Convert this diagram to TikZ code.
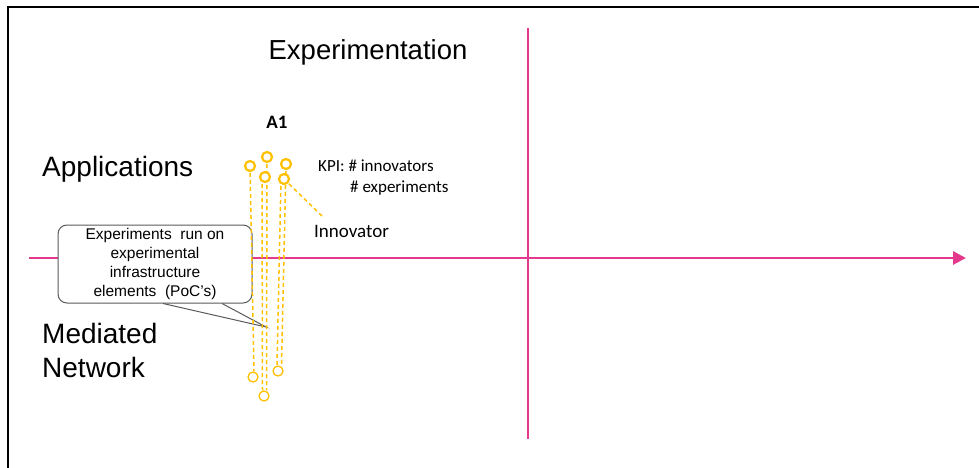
\documentclass[tikz,border=0pt]{standalone}
\usepackage{fontspec}
\setmainfont{Liberation Sans}
\newfontfamily\calib{Carlito}
\usepackage{xcolor}
\usetikzlibrary{arrows.meta}
\definecolor{axispink}{RGB}{228,56,140}
\definecolor{innoyellow}{RGB}{255,192,0}
\definecolor{boxgray}{RGB}{90,90,90}

\begin{document}
\begin{tikzpicture}[x=1pt,y=-1pt,
  ring/.style={circle,draw=innoyellow,fill=white,line width=2.2pt,minimum size=10pt,inner sep=0pt},
  pocring/.style={circle,draw=innoyellow,fill=white,line width=1.3pt,minimum size=10pt,inner sep=0pt},
  link/.style={draw=innoyellow,line width=1.5pt,dash pattern=on 4pt off 3pt},
  lbl/.style={inner sep=0pt}]
\useasboundingbox (0,0) rectangle (979,468);
\draw[line width=1.6pt] (8,470) -- (8,7) -- (981,7);
% axes
\coordinate (west) at (29,258);
\coordinate (east) at (966,258);
\coordinate (top) at (528,28);
\coordinate (bottom) at (528,439);
\draw[axispink,line width=2.8pt,-{Triangle[length=13pt,width=13pt]}] (west) -- (east);
\draw[axispink,line width=2.8pt] (top) -- (bottom);
% callout
\node[draw=boxgray,fill=white,rounded corners=9pt,line width=1pt,minimum width=194pt,minimum height=78pt,
  inner sep=0pt,align=center,font=\fontsize{15.5}{19}\selectfont] (poc) at (155,264)
  {Experiments~~run on\\experimental\\infrastructure\\elements~~(PoC's)};
\coordinate (poctip) at (266,327);
\draw[boxgray,line width=1pt] ([xshift=8pt]poc.south) -- (poctip) -- ([xshift=67pt]poc.south);
% innovators and their PoCs
\node[pocring] (b1) at (253,377) {};
\node[pocring] (b2) at (264,396) {};
\node[pocring] (b3) at (278,371) {};
\coordinate (c1) at (250,166);
\coordinate (c2) at (267,157);
\coordinate (c3) at (286,164);
\coordinate (c4) at (265,177);
\coordinate (c5) at (284,179);
\draw[link] (c1) -- ([xshift=1pt]b1.north);
\draw[link] (c2) -- ([xshift=2.5pt]b2.north);
\draw[link] ([xshift=-3pt]c4) -- ([xshift=-1.5pt]b2.north);
\draw[link] (c3) -- ([xshift=3.5pt]b3.north);
\draw[link] ([xshift=-3pt]c5) -- ([xshift=-1pt]b3.north);
\coordinate (innotip) at (323,217);
\draw[link] (c5) -- (innotip);
\foreach \c in {c1,c2,c3,c4,c5}
  \node[ring] (\c ring) at (\c) {};
% labels
\node[lbl,font=\fontsize{27.5}{30}\selectfont] (exp) at (368,52) {Experimentation};
\node[lbl,anchor=west,font=\fontsize{28}{30}\selectfont] (apps) at (42,169) {Applications};
\node[lbl,anchor=west,align=left,font=\fontsize{28}{34}\selectfont] (med) at (42,350) {Mediated\\Network};
\node[lbl,font=\calib\bfseries\fontsize{19}{22}\selectfont] (a1) at (277,122) {A1};
\node[lbl,anchor=west,font=\calib\fontsize{17}{20}\selectfont] (kpi) at (318,166) {KPI: \# innovators};
\node[lbl,anchor=west,font=\calib\fontsize{17}{20}\selectfont] (kpiexp) at (350,188) {\# experiments};
\node[lbl,anchor=west,font=\calib\fontsize{19}{22}\selectfont] (inno) at (314,231) {Innovator};
\end{tikzpicture}
\end{document}
